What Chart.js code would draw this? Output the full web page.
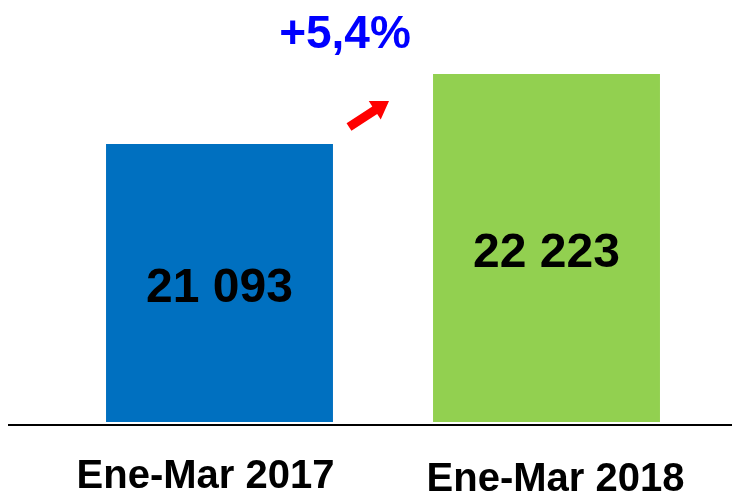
<!DOCTYPE html>
<html lang="es">
<head>
  <meta charset="UTF-8">
  <title>Ene-Mar 2017 vs 2018</title>
  <script src="https://cdn.jsdelivr.net/npm/chart.js"></script>
  <style>
    html, body {
      margin: 0;
      padding: 0;
      background: #ffffff;
    }
    .wrap {
      width: 732px;
      height: 495px;
    }
  </style>
</head>
<body>
  <div class="wrap">
    <canvas id="chart" width="732" height="495"></canvas>
  </div>

  <script>
    const categories = ['Ene-Mar 2017', 'Ene-Mar 2018'];
    const values = [21093, 22223];
    const barColors = ['#0070C0', '#92D050'];

    // scale is cut, bars don't start at zero
    const yMin = 16605;
    const yMax = 23256;

    const FONT = "'Liberation Sans', Arial, sans-serif";

    function fmt(v) {
      return String(v).replace(/\B(?=(\d{3})+(?!\d))/g, ' ');
    }

    const decorations = {
      id: 'decorations',
      afterDatasetsDraw(chart) {
        const ctx = chart.ctx;
        const meta = chart.getDatasetMeta(0);
        const area = chart.chartArea;
        ctx.save();

        // value labels inside bars (bars are clipped at the area bottom)
        ctx.fillStyle = '#000';
        ctx.font = 'bold 48px ' + FONT;
        ctx.textAlign = 'center';
        ctx.textBaseline = 'middle';
        meta.data.forEach((bar, i) => {
          const bottom = Math.min(bar.base, area.bottom);
          ctx.fillText(fmt(values[i]), bar.x, (bar.y + bottom) / 2 + 6);
        });

        // baseline
        ctx.strokeStyle = '#000';
        ctx.lineWidth = 2;
        ctx.beginPath();
        ctx.moveTo(8, area.bottom + 3);
        ctx.lineTo(732, area.bottom + 3);
        ctx.stroke();

        // category labels
        const shifts = [-14, 9];
        const drops = [66, 69];
        ctx.font = 'bold 40px ' + FONT;
        ctx.textBaseline = 'alphabetic';
        meta.data.forEach((bar, i) => {
          ctx.fillText(categories[i], bar.x + shifts[i], area.bottom + drops[i]);
        });

        // growth label
        const pct = ((values[1] / values[0] - 1) * 100).toFixed(1).replace('.', ',');
        ctx.fillStyle = '#0000FF';
        ctx.font = 'bold 46px ' + FONT;
        ctx.fillText('+' + pct + '%', 345, 48);

        // red arrow
        const x0 = 349, y0 = 127, x1 = 389, y1 = 101;
        const dx = x1 - x0, dy = y1 - y0;
        const len = Math.hypot(dx, dy);
        const ux = dx / len, uy = dy / len;
        const px = -uy, py = ux;
        const headLen = 17, headHalf = 11, shaftHalf = 4.5;
        const bx = x1 - ux * headLen, by = y1 - uy * headLen;
        ctx.fillStyle = '#FF0000';
        ctx.beginPath();
        ctx.moveTo(x0 + px * shaftHalf, y0 + py * shaftHalf);
        ctx.lineTo(bx + px * shaftHalf, by + py * shaftHalf);
        ctx.lineTo(bx + px * headHalf, by + py * headHalf);
        ctx.lineTo(x1, y1);
        ctx.lineTo(bx - px * headHalf, by - py * headHalf);
        ctx.lineTo(bx - px * shaftHalf, by - py * shaftHalf);
        ctx.lineTo(x0 - px * shaftHalf, y0 - py * shaftHalf);
        ctx.closePath();
        ctx.fill();

        ctx.restore();
      }
    };

    new Chart(document.getElementById('chart'), {
      type: 'bar',
      data: {
        labels: categories,
        datasets: [{
          data: values,
          backgroundColor: barColors,
          borderWidth: 0,
          barPercentage: 0.694,
          categoryPercentage: 1
        }]
      },
      options: {
        responsive: false,
        animation: false,
        layout: {
          padding: { top: 10, left: 56, right: 22, bottom: 73 }
        },
        plugins: {
          legend: { display: false },
          tooltip: { enabled: false }
        },
        scales: {
          x: { display: false },
          y: { display: false, min: yMin, max: yMax }
        }
      },
      plugins: [decorations]
    });
  </script>
</body>
</html>
